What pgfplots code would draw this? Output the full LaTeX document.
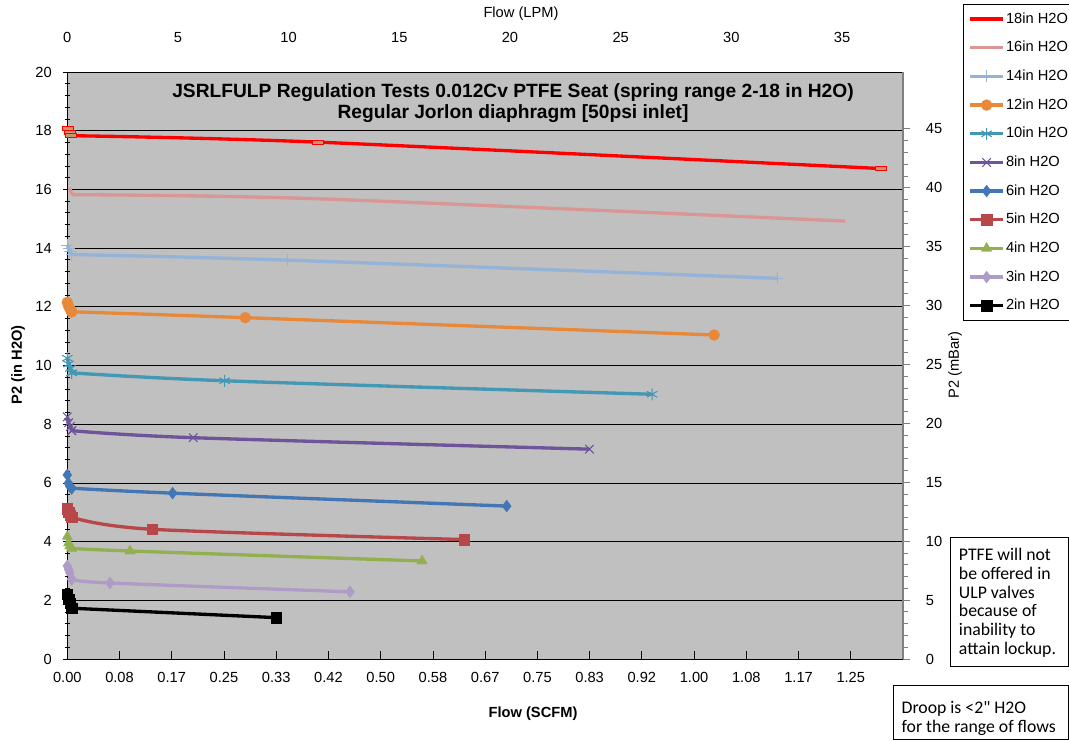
\documentclass[border=0pt]{standalone}
\usepackage{fontspec}
\setmainfont{Liberation Sans}
\newfontfamily\calibri{Carlito}
\usepackage{pgfplots}
\pgfplotsset{compat=1.18}
\definecolor{c18}{HTML}{FF0000}
\definecolor{c16}{HTML}{D99694}
\definecolor{c14}{HTML}{95B3D7}
\definecolor{c12}{HTML}{E8893A}
\definecolor{c10}{HTML}{4298B5}
\definecolor{c8}{HTML}{6E5498}
\definecolor{c6}{HTML}{4376B4}
\definecolor{c5}{HTML}{B8474A}
\definecolor{c4}{HTML}{92B04F}
\definecolor{c3}{HTML}{AE9CC6}
\definecolor{c2}{HTML}{000000}
\definecolor{plotgray}{HTML}{C0C0C0}
\definecolor{tanfill}{HTML}{C8966E}
\pgfplotsset{
  s18/.style={c18, line width=2.5pt, mark=square*, mark size=2.5pt, mark options={xscale=1.65, yscale=0.6, draw=red, fill=tanfill, line width=0.6pt}},
  s16/.style={c16, line width=2.5pt, no marks},
  s14/.style={c14, line width=2.5pt, mark=+, mark size=4.5pt, mark options={line width=0.8pt}},
  s12/.style={c12, line width=2.5pt, mark=*, mark size=4.2pt, mark options={line width=0.1pt}},
  s10/.style={c10, line width=2.5pt, mark=asterisk, mark size=4.5pt, mark options={line width=0.8pt}},
  s8/.style={c8, line width=2.5pt, mark=x, mark size=4.5pt, mark options={line width=0.8pt}},
  s6/.style={c6, line width=2.5pt, mark=diamond*, mark size=4.6pt, mark options={line width=0.1pt}},
  s5/.style={c5, line width=2.5pt, mark=square*, mark size=3.9pt, mark options={line width=0.1pt}},
  s4/.style={c4, line width=2.5pt, mark=triangle*, mark size=4.6pt, mark options={line width=0.1pt}},
  s3/.style={c3, line width=2.5pt, mark=diamond*, mark size=4.6pt, mark options={line width=0.1pt}},
  s2/.style={c2, line width=2.5pt, mark=square*, mark size=3.9pt, mark options={line width=0.1pt}},
}
\begin{document}
\begin{tikzpicture}
\path[use as bounding box] (0,0) rectangle (801.75pt,555pt);
\begin{axis}[
  at={(50.475pt,60.75pt)}, anchor=south west,
  scale only axis, width=626.775pt, height=440.25pt,
  xmin=0, xmax=1.333333, ymin=0, ymax=20,
  axis x line*=bottom, axis y line*=left,
  axis line style={black, line width=0.75pt},
  axis background/.style={fill=plotgray},
  xtick={0,0.083333,0.166667,0.25,0.333333,0.416667,0.5,0.583333,0.666667,0.75,0.833333,0.916667,1,1.083333,1.166667,1.25,1.333333},
  xticklabels={0.00,0.08,0.17,0.25,0.33,0.42,0.50,0.58,0.67,0.75,0.83,0.92,1.00,1.08,1.17,1.25,{}},
  minor x tick num=4,
  ytick={0,2,...,20}, minor y tick num=4,
  ymajorgrids, major grid style={black, line width=0.6pt},
  xtick align=inside, ytick align=center,
  major tick length=6pt, minor tick length=4pt,
  tick style={black, line width=0.6pt},
  /pgf/number format/assume math mode=true,
  ticklabel style={font=\fontsize{11}{13}\selectfont},
  xticklabel style={inner sep=0pt, anchor=north, yshift=-9.5pt},
  yticklabel style={inner sep=0pt, anchor=east, xshift=-8.5pt},
  clip=false,
  legend cell align=left,
  legend image code/.code={\draw[mark repeat=2,mark phase=2,#1] plot coordinates {(0pt,0pt) (12.4pt,0pt) (24.75pt,0pt)};},
  legend style={at={(1.0714,1.1158)}, anchor=north west, draw=black, line width=0.6pt, fill=white,
    font=\fontsize{11}{13}\selectfont, row sep=9.5pt, inner xsep=4pt, inner ysep=5pt,
    nodes={inner sep=1pt, text height=8pt, text depth=2pt}},
]
% 18 in
\addplot[s18, sharp plot, forget plot] coordinates {(0.0016,18.08) (0.0043,17.95) (0.006,17.83)};
\addplot[s18, smooth, legend image code/.code={\draw[c18, line width=2.5pt] (0pt,0pt) -- (24.75pt,0pt);}]
  coordinates {(0.006,17.83) (0.400,17.61) (1.298,16.71)};
\addlegendentry{18in H2O}
% 16 in
\addplot[s16, sharp plot, forget plot] coordinates {(0.0030,16.05) (0.0055,15.95) (0.0075,15.82)};
\addplot[s16, smooth] coordinates {(0.0075,15.82) (0.400,15.68) (1.241,14.92)};
\addlegendentry{16in H2O}
% 14 in
\addplot[s14, sharp plot, forget plot] coordinates {(0.000,14.10) (0.002,13.98) (0.004,13.87) (0.007,13.78)};
\addplot[s14, smooth] coordinates {(0.007,13.78) (0.351,13.59) (1.133,12.97)};
\addlegendentry{14in H2O}
% 12 in
\addplot[s12, sharp plot, forget plot] coordinates {(0.000,12.15) (0.002,12.02) (0.005,11.90) (0.007,11.83)};
\addplot[s12, smooth] coordinates {(0.007,11.83) (0.284,11.63) (1.032,11.04)};
\addlegendentry{12in H2O}
% 10 in
\addplot[s10, sharp plot, forget plot] coordinates {(0.000,10.25) (0.002,10.05) (0.005,9.90) (0.007,9.75)};
\addplot[s10, smooth] coordinates {(0.007,9.75) (0.251,9.48) (0.933,9.02)};
\addlegendentry{10in H2O}
% 8 in
\addplot[s8, sharp plot, forget plot] coordinates {(0.000,8.25) (0.002,8.05) (0.005,7.92) (0.007,7.78)};
\addplot[s8, smooth] coordinates {(0.007,7.78) (0.201,7.54) (0.833,7.15)};
\addlegendentry{8in H2O}
% 6 in
\addplot[s6, sharp plot, forget plot] coordinates {(0.000,6.27) (0.0016,5.99) (0.004,5.88) (0.007,5.82)};
\addplot[s6, smooth] coordinates {(0.007,5.82) (0.168,5.65) (0.701,5.21)};
\addlegendentry{6in H2O}
% 5 in
\addplot[s5, sharp plot, forget plot] coordinates {(0.000,5.13) (0.002,5.00) (0.004,4.91) (0.007,4.83)};
\addplot[s5, smooth] coordinates {(0.007,4.83) (0.135,4.42) (0.633,4.07)};
\addlegendentry{5in H2O}
% 4 in
\addplot[s4, sharp plot, forget plot] coordinates {(0.000,4.17) (0.002,3.95) (0.004,3.85) (0.007,3.77)};
\addplot[s4, smooth] coordinates {(0.007,3.77) (0.100,3.68) (0.566,3.34)};
\addlegendentry{4in H2O}
% 3 in
\addplot[s3, sharp plot, forget plot] coordinates {(0.000,3.17) (0.002,3.05) (0.004,2.94) (0.007,2.72)};
\addplot[s3, smooth] coordinates {(0.007,2.72) (0.068,2.59) (0.451,2.29)};
\addlegendentry{3in H2O}
% 2 in
\addplot[s2, sharp plot, forget plot] coordinates {(0.000,2.21) (0.002,2.05) (0.004,1.90) (0.007,1.73)};
\addplot[s2, sharp plot] coordinates {(0.007,1.73) (0.333,1.41)};
\addlegendentry{2in H2O}
\end{axis}
\begin{axis}[
  at={(50.475pt,60.75pt)}, anchor=south west,
  scale only axis, width=626.775pt, height=440.25pt,
  xmin=0, xmax=37.756, ymin=0, ymax=49.82,
  axis x line*=top, axis y line*=right,
  x axis line style={draw=none},
  y axis line style={draw=gray, line width=0.9pt},
  xtick={0,5,...,35}, ytick={0,5,...,45}, minor y tick num=4,
  xtick style={draw=none}, ytick style={gray, line width=0.6pt},
  ytick align=outside, major tick length=5pt, minor tick length=4pt,
  /pgf/number format/assume math mode=true,
  ticklabel style={font=\fontsize{11}{13}\selectfont},
  xticklabel style={inner sep=0pt, anchor=south, yshift=21.5pt},
  yticklabel style={inner sep=0pt, anchor=west, xshift=12pt},
]
\end{axis}
% titles
\node[anchor=base, align=center, font=\bfseries\fontsize{14.4}{16}\selectfont] at (384.75pt,465.75pt)
  {JSRLFULP Regulation Tests 0.012Cv PTFE Seat (spring range 2-18 in H2O)\\Regular Jorlon diaphragm [50psi inlet]};
\node[anchor=base, font=\bfseries\fontsize{11}{13}\selectfont] at (399.75pt,17.25pt) {Flow (SCFM)};
\node[anchor=base, font=\fontsize{11}{13}\selectfont] at (390.75pt,542pt) {Flow (LPM)};
\node[rotate=90, font=\bfseries\fontsize{11}{13}\selectfont] at (13.5pt,281.25pt) {P2 (in H2O)};
\node[rotate=90, font=\fontsize{11}{13}\selectfont] at (716.25pt,281.25pt) {P2 (mBar)};
% text boxes
\draw[black, line width=0.6pt, fill=white] (712.5pt,152.25pt) rectangle (801pt,55.5pt);
\begin{scope}[every node/.style={anchor=base west, inner sep=0pt, font=\calibri\fontsize{13.3}{15}\selectfont}]
\node at (719pt,134.5pt) {PTFE will not};
\node at (719pt,120.5pt) {be offered in};
\node at (719pt,106.5pt) {ULP valves};
\node at (719pt,92.5pt) {because of};
\node at (719pt,78.5pt) {inability to};
\node at (719pt,64.5pt) {attain lockup.};
\end{scope}
\draw[black, line width=0.6pt, fill=white] (669.75pt,41.25pt) rectangle (801pt,0.75pt);
\begin{scope}[every node/.style={anchor=base west, inner sep=0pt, font=\calibri\fontsize{13.3}{15}\selectfont}]
\node at (676pt,20pt) {Droop is <2" H2O};
\node at (676pt,5.6pt) {for the range of flows};
\end{scope}
\end{tikzpicture}
\end{document}
